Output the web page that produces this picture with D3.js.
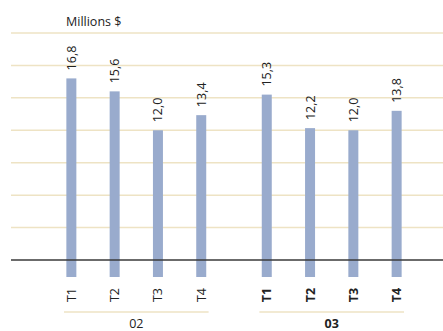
<!DOCTYPE html>
<html>
<head>
<meta charset="utf-8">
<script src="https://cdn.jsdelivr.net/npm/d3@7"></script>
<style>
  html, body { margin: 0; padding: 0; background: #fff; }
  svg { display: block; font-family: "Open Sans", "Noto Sans", sans-serif; }
</style>
</head>
<body>
<svg id="chart" width="443" height="331"></svg>
<script>
// Quarterly values, millions of dollars
const years = ["02", "03"];
const quarters = ["T1", "T2", "T3", "T4"];
const values02 = [16.8, 15.6, 12.0, 13.4];
const values03 = [15.3, 12.2, 12.0, 13.8];
const gridTicks = [0, 3, 6, 9, 12, 15, 18, 21];
const unitLabel = "Millions $";

const seriesByYear = { "02": values02, "03": values03 };
const boldYear = { "02": false, "03": true };

const svg = d3.select("#chart");
const W = 443;

const y = d3.scaleLinear().domain([0, 21]).range([260, 33]);

const xYear = d3.scaleBand().domain(years).range([64, 404]).paddingInner(0.26).paddingOuter(0);
const xQuarter = d3.scalePoint().domain(quarters).range([0, xYear.bandwidth()]).padding(0.17);

const barW = 10;
const belowBase = 17;
const fmt = v => d3.format(".1f")(v).replace(".", ",");

// horizontal gridlines
svg.append("g")
  .selectAll("line")
  .data(gridTicks.filter(t => t > 0))
  .join("line")
  .attr("x1", 11).attr("x2", W)
  .attr("y1", d => y(d)).attr("y2", d => y(d))
  .attr("stroke", "#eee3c4").attr("stroke-width", 1.5);

// unit label
svg.append("text")
  .attr("x", 66).attr("y", 26)
  .attr("font-size", 12.5).attr("fill", "#222")
  .text(unitLabel);

years.forEach(yr => {
  const g = svg.append("g").attr("transform", `translate(${xYear(yr)},0)`);
  const data = quarters.map((q, i) => ({ q, v: seriesByYear[yr][i] }));

  // bars run a little past the baseline
  g.selectAll("rect")
    .data(data)
    .join("rect")
    .attr("x", d => xQuarter(d.q) - barW / 2)
    .attr("width", barW)
    .attr("y", d => y(d.v))
    .attr("height", d => y(0) + belowBase - y(d.v))
    .attr("fill", "#99abcd");

  // value labels, rotated
  g.selectAll("text.val")
    .data(data)
    .join("text")
    .attr("class", "val")
    .attr("transform", d => `translate(${xQuarter(d.q)},${y(d.v) - 8}) rotate(-90)`)
    .attr("dy", "0.36em")
    .attr("font-size", 12.5).attr("fill", "#222")
    .text(d => fmt(d.v));

  // quarter labels
  g.selectAll("text.q")
    .data(data)
    .join("text")
    .attr("class", "q")
    .attr("transform", d => `translate(${xQuarter(d.q)},295) rotate(-90)`)
    .attr("dy", "0.36em")
    .attr("text-anchor", "middle")
    .attr("font-size", 12.5)
    .attr("font-weight", boldYear[yr] ? "bold" : "normal")
    .attr("fill", "#222")
    .text(d => d.q);

  // year underline and label
  g.append("line")
    .attr("x1", 0).attr("x2", xYear.bandwidth())
    .attr("y1", 312).attr("y2", 312)
    .attr("stroke", "#eee3c4").attr("stroke-width", 1.5);

  g.append("text")
    .attr("x", xYear.bandwidth() / 2).attr("y", 327.5)
    .attr("text-anchor", "middle")
    .attr("font-size", 12.5)
    .attr("font-weight", boldYear[yr] ? "bold" : "normal")
    .attr("fill", "#222")
    .text(yr);
});

// zero baseline
svg.append("line")
  .attr("x1", 11).attr("x2", W)
  .attr("y1", y(0)).attr("y2", y(0))
  .attr("stroke", "#3a3a3a").attr("stroke-width", 1.5);
</script>
</body>
</html>
